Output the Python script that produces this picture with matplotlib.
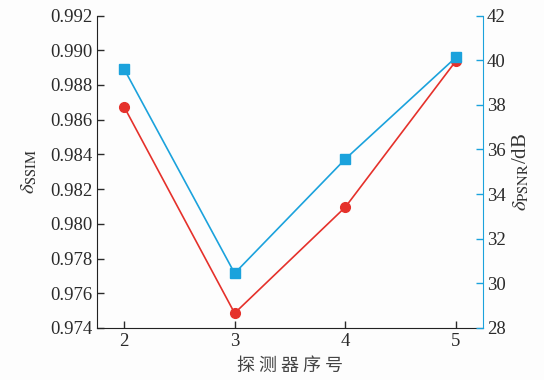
import matplotlib.pyplot as plt

plt.rcParams['font.family'] = ['Liberation Serif', 'Noto Sans CJK SC']
plt.rcParams['mathtext.fontset'] = 'stix'

detectors = [2, 3, 4, 5]
ssim = [0.98676, 0.97485, 0.98096, 0.98939]
psnr = [39.62, 30.45, 35.57, 40.13]
ssim_ticks = [0.974, 0.976, 0.978, 0.980, 0.982, 0.984, 0.986, 0.988, 0.990, 0.992]
psnr_ticks = [28, 30, 32, 34, 36, 38, 40, 42]

red = '#e5312b'
blue = '#1ba2dc'

fig = plt.figure(figsize=(5.44, 3.8), dpi=100)
fig.patch.set_facecolor('#fdfdfd')
ax = fig.add_axes([0.178, 0.137, 0.709, 0.822])
ax.set_facecolor('none')

ax.plot(detectors, ssim, color=red, lw=1.2, marker='o', ms=7, zorder=3)
ax.set_xlim(1.755, 5.24)
ax.set_ylim(0.974, 0.992)
ax.set_yticks(ssim_ticks)
ax.set_yticklabels([f'{v:.3f}' for v in ssim_ticks])
ax.set_xticks(detectors)
ax.tick_params(direction='in', length=5, width=1, labelsize=13.5, colors='#2a2a2a')
ax.tick_params(axis='y', pad=3)
ax.spines['top'].set_visible(False)
ax.spines['right'].set_visible(False)
for s in ('left', 'bottom'):
    ax.spines[s].set_color('#222222')
ax.set_ylabel(r'$\delta_{\rm SSIM}$', fontsize=15, color='#333333', labelpad=8)
ax.set_xlabel('探 测 器 序 号', family=['Noto Sans CJK SC', 'DejaVu Sans'],
              fontsize=13, color='#444444', labelpad=5)

ax2 = ax.twinx()
ax2.plot(detectors, psnr, color=blue, lw=1.2, marker='s', ms=7, zorder=3)
ax2.set_ylim(28, 42)
ax2.set_yticks(psnr_ticks)
ax2.tick_params(direction='in', length=5, width=1, labelsize=13.5, pad=3,
                color=blue, labelcolor='#2a2a2a')
ax2.spines['top'].set_visible(False)
ax2.spines['left'].set_visible(False)
ax2.spines['bottom'].set_visible(False)
ax2.spines['right'].set_color(blue)
ax2.set_ylabel(r'$\delta_{\rm PSNR}$/dB', fontsize=15, color='#333333', labelpad=4)

fig.savefig('out.png', dpi=100, facecolor=fig.get_facecolor())
